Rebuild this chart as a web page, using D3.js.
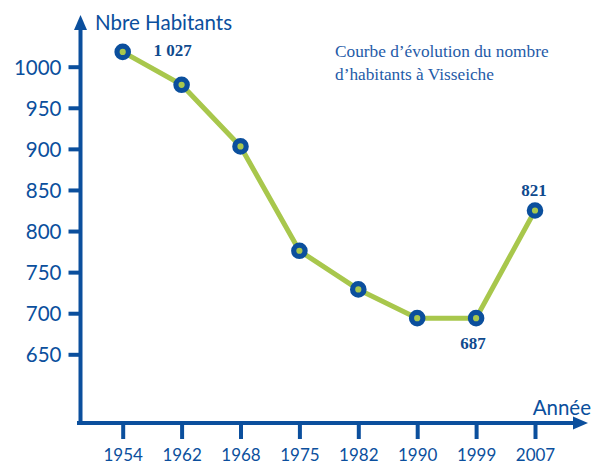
<!DOCTYPE html>
<html>
<head>
<meta charset="utf-8">
<script src="https://cdn.jsdelivr.net/npm/d3@7"></script>
<style>
  body { margin: 0; background: #fff; }
  svg { display: block; }
</style>
</head>
<body>
<div id="chart"></div>
<script>
// years and population as read on the picture
let annees = ['1954', '1962', '1968', '1975', '1982', '1990', '1999', '2007'];
let habitants = [1018, 978, 903, 776, 729, 694, 694, 825];
let yTicks = [650, 700, 750, 800, 850, 900, 950, 1000];
// value labels written next to some points
let etiquettes = [
    { annee: '1954', texte: '1 027', dx: 50, dy: 4 },
    { annee: '1999', texte: '687', dx: -3, dy: 31 },
    { annee: '2007', texte: '821', dx: -1, dy: -15 }
];

var w = 592, h = 464;
var bleu = '#0b4f9d', vert = '#a8c74c';

var svg = d3.select('#chart').append('svg').attr('width', w).attr('height', h);

var x = d3.scalePoint().domain(annees).range([122.7, 535]);
var y = d3.scaleLinear().domain([650, 1000]).range([354.3, 66.7]);

var axeX = 80.5, axeY = 423;

// y axis
svg.append('line').attr('x1', axeX).attr('x2', axeX).attr('y1', 26).attr('y2', axeY + 2)
    .attr('stroke', bleu).attr('stroke-width', 4);
svg.append('path').attr('d', 'M' + axeX + ',15 L' + (axeX - 6.5) + ',30 L' + (axeX + 6.5) + ',30 Z')
    .attr('fill', bleu);

var gy = svg.append('g').attr('transform', 'translate(' + axeX + ',0)')
    .call(d3.axisLeft(y).tickValues(yTicks).tickSize(12).tickPadding(7).tickFormat(d3.format('d')));
gy.select('.domain').remove();
gy.selectAll('.tick line').attr('stroke', bleu).attr('stroke-width', 4);
gy.selectAll('.tick text').attr('fill', bleu).style('font-family', 'Lato, sans-serif').style('font-size', '20.5px')
    .attr('dy', '0.36em');

// x axis
svg.append('line').attr('x1', 77).attr('x2', 577).attr('y1', axeY).attr('y2', axeY)
    .attr('stroke', bleu).attr('stroke-width', 4);
svg.append('path').attr('d', 'M588,' + axeY + ' L573,' + (axeY - 6.5) + ' L573,' + (axeY + 6.5) + ' Z')
    .attr('fill', bleu);

var gx = svg.append('g').attr('transform', 'translate(0,' + axeY + ')')
    .call(d3.axisBottom(x).tickSize(16).tickPadding(10));
gx.select('.domain').remove();
gx.selectAll('.tick line').attr('stroke', bleu).attr('stroke-width', 4);
gx.selectAll('.tick text').attr('fill', bleu).style('font-family', 'Lato, sans-serif').style('font-size', '17px');

// axis titles
svg.append('text').text('Nbre Habitants').attr('x', 95).attr('y', 30)
    .attr('fill', bleu).style('font-family', 'Lato, sans-serif').style('font-size', '20.5px');
svg.append('text').text('Année').attr('x', 591).attr('y', 415).attr('text-anchor', 'end')
    .attr('fill', bleu).style('font-family', 'Lato, sans-serif').style('font-size', '20.5px');

// chart title
var titre = svg.append('text').attr('fill', '#1f5ba8')
    .style('font-family', '"Liberation Serif", serif').style('font-size', '17.3px');
titre.append('tspan').attr('x', 335).attr('y', 57).text('Courbe d\u2019évolution du nombre');
titre.append('tspan').attr('x', 335).attr('y', 80).text('d\u2019habitants à Visseiche');

// curve
var data = annees.map((a, i) => ({ annee: a, valeur: habitants[i] }));
var ligne = d3.line().x(d => x(d.annee)).y(d => y(d.valeur));
svg.append('path').datum(data).attr('d', ligne)
    .attr('fill', 'none').attr('stroke', vert).attr('stroke-width', 5).attr('stroke-linejoin', 'round');

svg.selectAll('circle.pt').data(data).enter().append('circle').attr('class', 'pt')
    .attr('cx', d => x(d.annee)).attr('cy', d => y(d.valeur)).attr('r', 5.7)
    .attr('fill', vert).attr('stroke', bleu).attr('stroke-width', 5.2);

// value labels
svg.selectAll('text.val').data(etiquettes).enter().append('text').attr('class', 'val')
    .attr('x', d => x(d.annee) + d.dx)
    .attr('y', d => y(habitants[annees.indexOf(d.annee)]) + d.dy)
    .attr('text-anchor', 'middle').attr('fill', '#0f4a8e')
    .style('font-family', '"Liberation Serif", serif').style('font-weight', 'bold').style('font-size', '17px')
    .text(d => d.texte);
</script>
</body>
</html>
